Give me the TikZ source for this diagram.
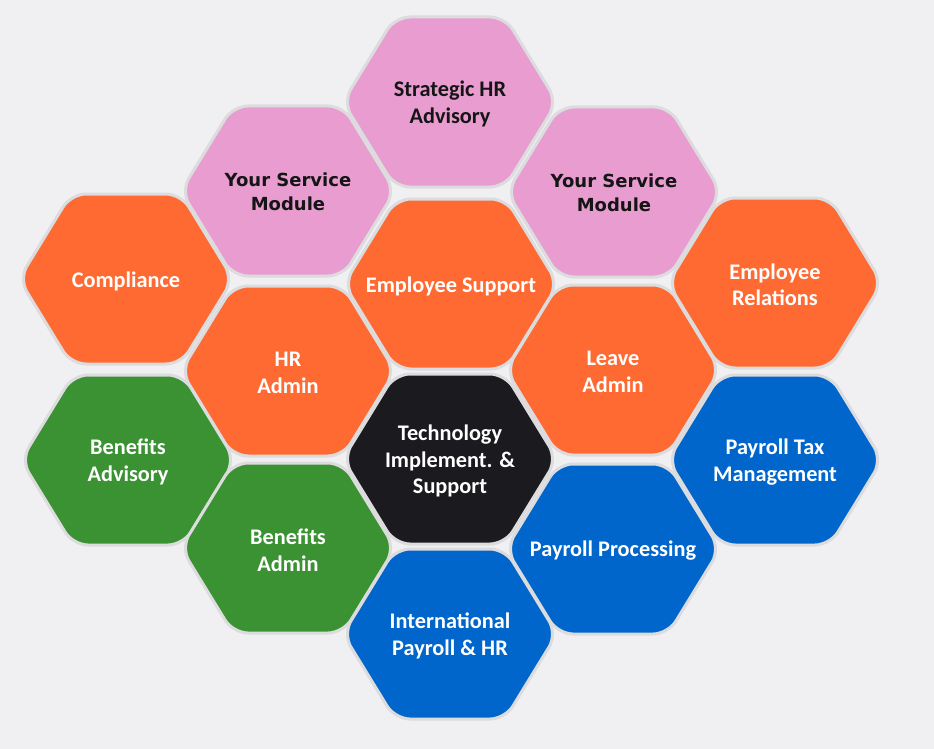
\documentclass[tikz,border=0pt]{standalone}
\usepackage{fontspec}
\setmainfont{Carlito}
\newfontfamily\verdfont{DejaVu Sans}
\definecolor{bgc}{HTML}{F0EFF2}
\definecolor{hpink}{HTML}{E89CD0}
\definecolor{horange}{HTML}{FF6A33}
\definecolor{hgreen}{HTML}{3A9232}
\definecolor{hblue}{HTML}{0066CC}
\definecolor{hdark}{HTML}{1B1B1F}
\definecolor{hborder}{HTML}{DCDCDF}
\definecolor{tdark}{HTML}{151515}
\tikzset{
  hexborder/.style={draw=hborder, line width=3pt, rounded corners=15pt, line join=round},
  hextext/.style={align=center, font=\fontsize{22.3}{26.5}\selectfont\bfseries, inner sep=0pt, yshift=-2pt},
  ysmtext/.style={align=center, font=\verdfont\fontsize{18}{24}\selectfont\bfseries, inner sep=0pt, text=tdark, yshift=-1pt}
}
\newcommand\hexcell[6]{%
  \draw[hexborder, fill=#4] (#2,#3-85) -- (#2+55,#3-85) -- (#2+107,#3) -- (#2+55,#3+85)
     -- (#2-55,#3+85) -- (#2-107,#3) -- (#2-55,#3-85) -- cycle;
  \node[#5] (#1) at (#2,#3) {#6};
}
\begin{document}
\begin{tikzpicture}[x=1pt,y=-1pt]
\fill[bgc] (0,0) rectangle (934,749);
\useasboundingbox (0,0) rectangle (934,749);
\hexcell{strat}{450}{102}{hpink}{hextext,text=tdark}{Strategic HR\\Advisory}
\hexcell{ysml}{288}{191}{hpink}{ysmtext}{Your Service\\Module}
\hexcell{ysmr}{614}{192}{hpink}{ysmtext}{Your Service\\Module}
\hexcell{compl}{126}{279}{horange}{hextext,text=white}{Compliance}
\hexcell{empsup}{451}{284}{horange}{hextext,text=white}{Employee Support}
\hexcell{emprel}{775}{283}{horange}{hextext,text=white}{Employee\\Relations}
\hexcell{hradmin}{288}{371}{horange}{hextext,text=white}{HR\\Admin}
\hexcell{leave}{613}{370}{horange}{hextext,text=white}{Leave\\Admin}
\hexcell{tech}{450}{459}{hdark}{hextext,text=white}{Technology\\Implement. \&\\Support}
\hexcell{benadv}{128}{460}{hgreen}{hextext,text=white}{Benefits\\Advisory}
\hexcell{paytax}{775}{460}{hblue}{hextext,text=white}{Payroll Tax\\Management}
\hexcell{benadm}{288}{548}{hgreen}{hextext,text=white}{Benefits\\Admin}
\hexcell{payproc}{613}{549}{hblue}{hextext,text=white}{Payroll Processing}
\hexcell{intl}{450}{634}{hblue}{hextext,text=white}{International\\Payroll \& HR}
\end{tikzpicture}
\end{document}
